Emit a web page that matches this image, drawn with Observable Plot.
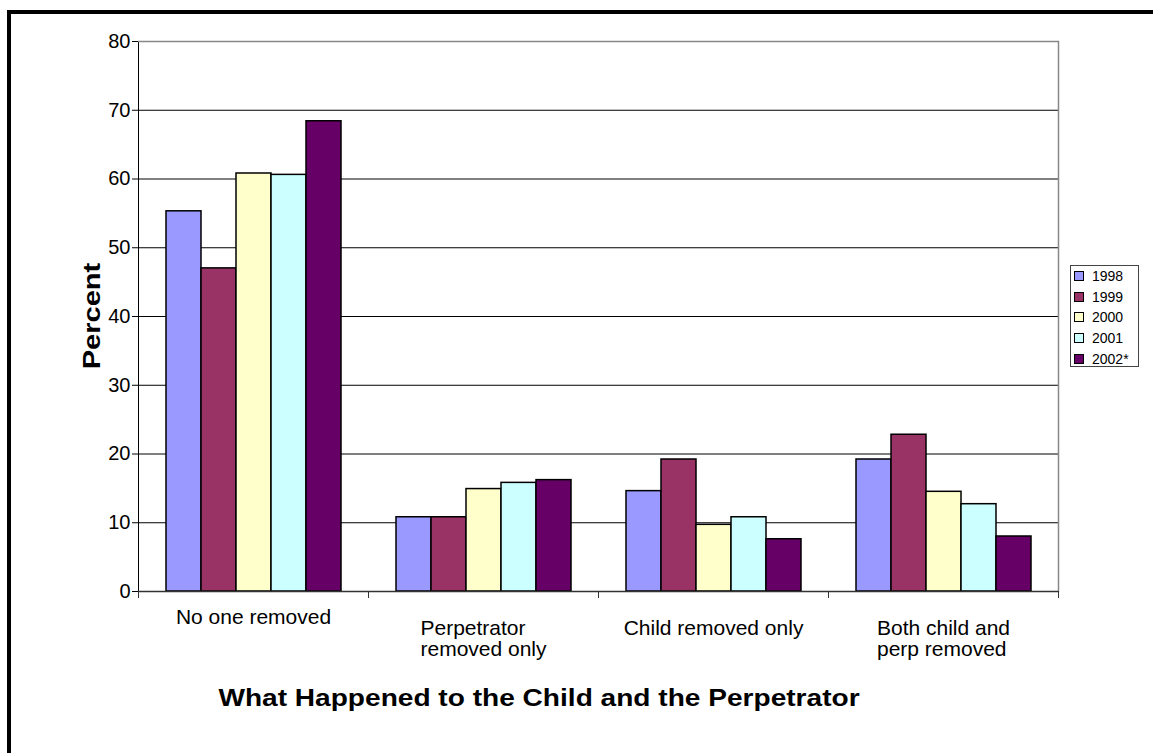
<!DOCTYPE html>
<html>
<head>
<meta charset="utf-8">
<script src="https://cdn.jsdelivr.net/npm/d3@7"></script>
<script src="https://cdn.jsdelivr.net/npm/@observablehq/plot@0.6"></script>
<style>
  html, body { margin: 0; padding: 0; background: #fff; }
  #page { position: relative; width: 1153px; height: 753px; overflow: hidden; font-family: "Liberation Sans", Arial, sans-serif; }
  #outline { position: absolute; left: 7px; top: 10px; width: 1300px; height: 900px; border: 4px solid #000; box-sizing: border-box; }
  #chart { position: absolute; left: 0; top: 0; }
  .ytitle { position: absolute; left: 92px; top: 316px; transform: translate(-50%, -50%) rotate(-90deg) scaleX(1.21); font-weight: bold; font-size: 24px; white-space: nowrap; color: #000; }
  .xtitle { position: absolute; left: 539px; top: 698px; transform: translate(-50%, -50%) scaleX(1.17); font-weight: bold; font-size: 24px; white-space: nowrap; color: #000; }
  #legend { position: absolute; left: 1070px; top: 265px; width: 69px; height: 102px; border: 1px solid #444; box-sizing: border-box; background: #fff; }
  #legend .row { position: absolute; left: 3px; height: 14px; display: flex; align-items: center; font-size: 14px; color: #000; }
  #legend .sw { width: 8px; height: 8px; border: 1px solid #000; margin-right: 8px; }
</style>
</head>
<body>
<div id="page">
  <div id="outline"></div>
  <div id="chart"></div>
  <div class="ytitle">Percent</div>
  <div class="xtitle">What Happened to the Child and the Perpetrator</div>
  <div id="legend"></div>
</div>
<script>
// Outcome categories (x groups) and report years (series)
const categories = ["No one removed", "Perpetrator\nremoved only", "Child removed only", "Both child and\nperp removed"];
const years = ["1998", "1999", "2000", "2001", "2002*"];
const colors = ["#9999FF", "#993366", "#FFFFCC", "#CCFFFF", "#660066"];

// Percent of cases per category, one array per year
const pct1998 = [55.3, 10.8, 14.6, 19.2];
const pct1999 = [47.0, 10.8, 19.2, 22.8];
const pct2000 = [60.8, 14.9, 9.7, 14.5];
const pct2001 = [60.6, 15.8, 10.8, 12.7];
const pct2002 = [68.4, 16.2, 7.6, 8.0];

const yTicks = [0, 10, 20, 30, 40, 50, 60, 70, 80];

const series = [pct1998, pct1999, pct2000, pct2001, pct2002];
const rows = [];
categories.forEach((c, i) => {
  years.forEach((yr, j) => rows.push({category: c, year: yr, value: series[j][i]}));
});

// Category labels: multi-line ones are left-aligned blocks centred on their group;
// the first label sits one line higher than the others.
const labelSize = 21;
const ctx = document.createElement("canvas").getContext("2d");
ctx.font = labelSize + "px 'Liberation Sans'";
const labelMarks = categories.map((c, i) => {
  const lines = c.split("\n");
  const multi = lines.length > 1;
  const w = Math.max(...lines.map(l => ctx.measureText(l).width));
  return Plot.text([c], {
    fx: d => d,
    text: d => d,
    frameAnchor: "bottom",
    textAnchor: multi ? "start" : "middle",
    dx: multi ? -w / 2 : 0,
    dy: i === 0 ? 17 : 28,
    lineAnchor: "top",
    lineHeight: 1.03,
    fontSize: labelSize,
    fill: "#000"
  });
});

const chart = Plot.plot({
  width: 1153,
  height: 753,
  marginLeft: 137,
  marginRight: 95,
  marginTop: 41,
  marginBottom: 162,
  style: {fontFamily: "'Liberation Sans', Arial, sans-serif", fontSize: "20px", background: "transparent", color: "#000"},
  fx: {domain: categories, padding: 0, axis: null},
  x: {domain: years, paddingInner: 0, paddingOuter: 0.74, axis: null},
  y: {domain: [0, 80], ticks: yTicks, tickSize: 6, tickPadding: 2, label: null, line: true},
  color: {domain: years, range: colors},
  marks: [
    Plot.ruleY(yTicks.filter(t => t > 0 && t < 80), {stroke: "#000", strokeWidth: 1}),
    Plot.ruleY([80], {stroke: "#888", strokeWidth: 1.5}),
    Plot.frame({anchor: "right", facet: "super", stroke: "#888", strokeWidth: 1.5}),
    Plot.frame({anchor: "right", facet: "super", insetTop: 550, insetBottom: -6, stroke: "#333"}),
    Plot.frame({anchor: "left", insetTop: 550, insetBottom: -6, stroke: "#333"}),
    Plot.barY(rows, {fx: "category", x: "year", y: "value", fill: "year", stroke: "#000", strokeWidth: 1.5}),
    Plot.ruleY([0], {stroke: "#333", strokeWidth: 1.5}),
    ...labelMarks
  ]
});
document.getElementById("chart").appendChild(chart);

// Legend box
const legend = document.getElementById("legend");
years.forEach((yr, i) => {
  const row = document.createElement("div");
  row.className = "row";
  row.style.top = (3 + i * 20.7) + "px";
  const sw = document.createElement("div");
  sw.className = "sw";
  sw.style.background = colors[i];
  const label = document.createElement("span");
  label.textContent = yr;
  row.appendChild(sw);
  row.appendChild(label);
  legend.appendChild(row);
});
</script>
</body>
</html>
